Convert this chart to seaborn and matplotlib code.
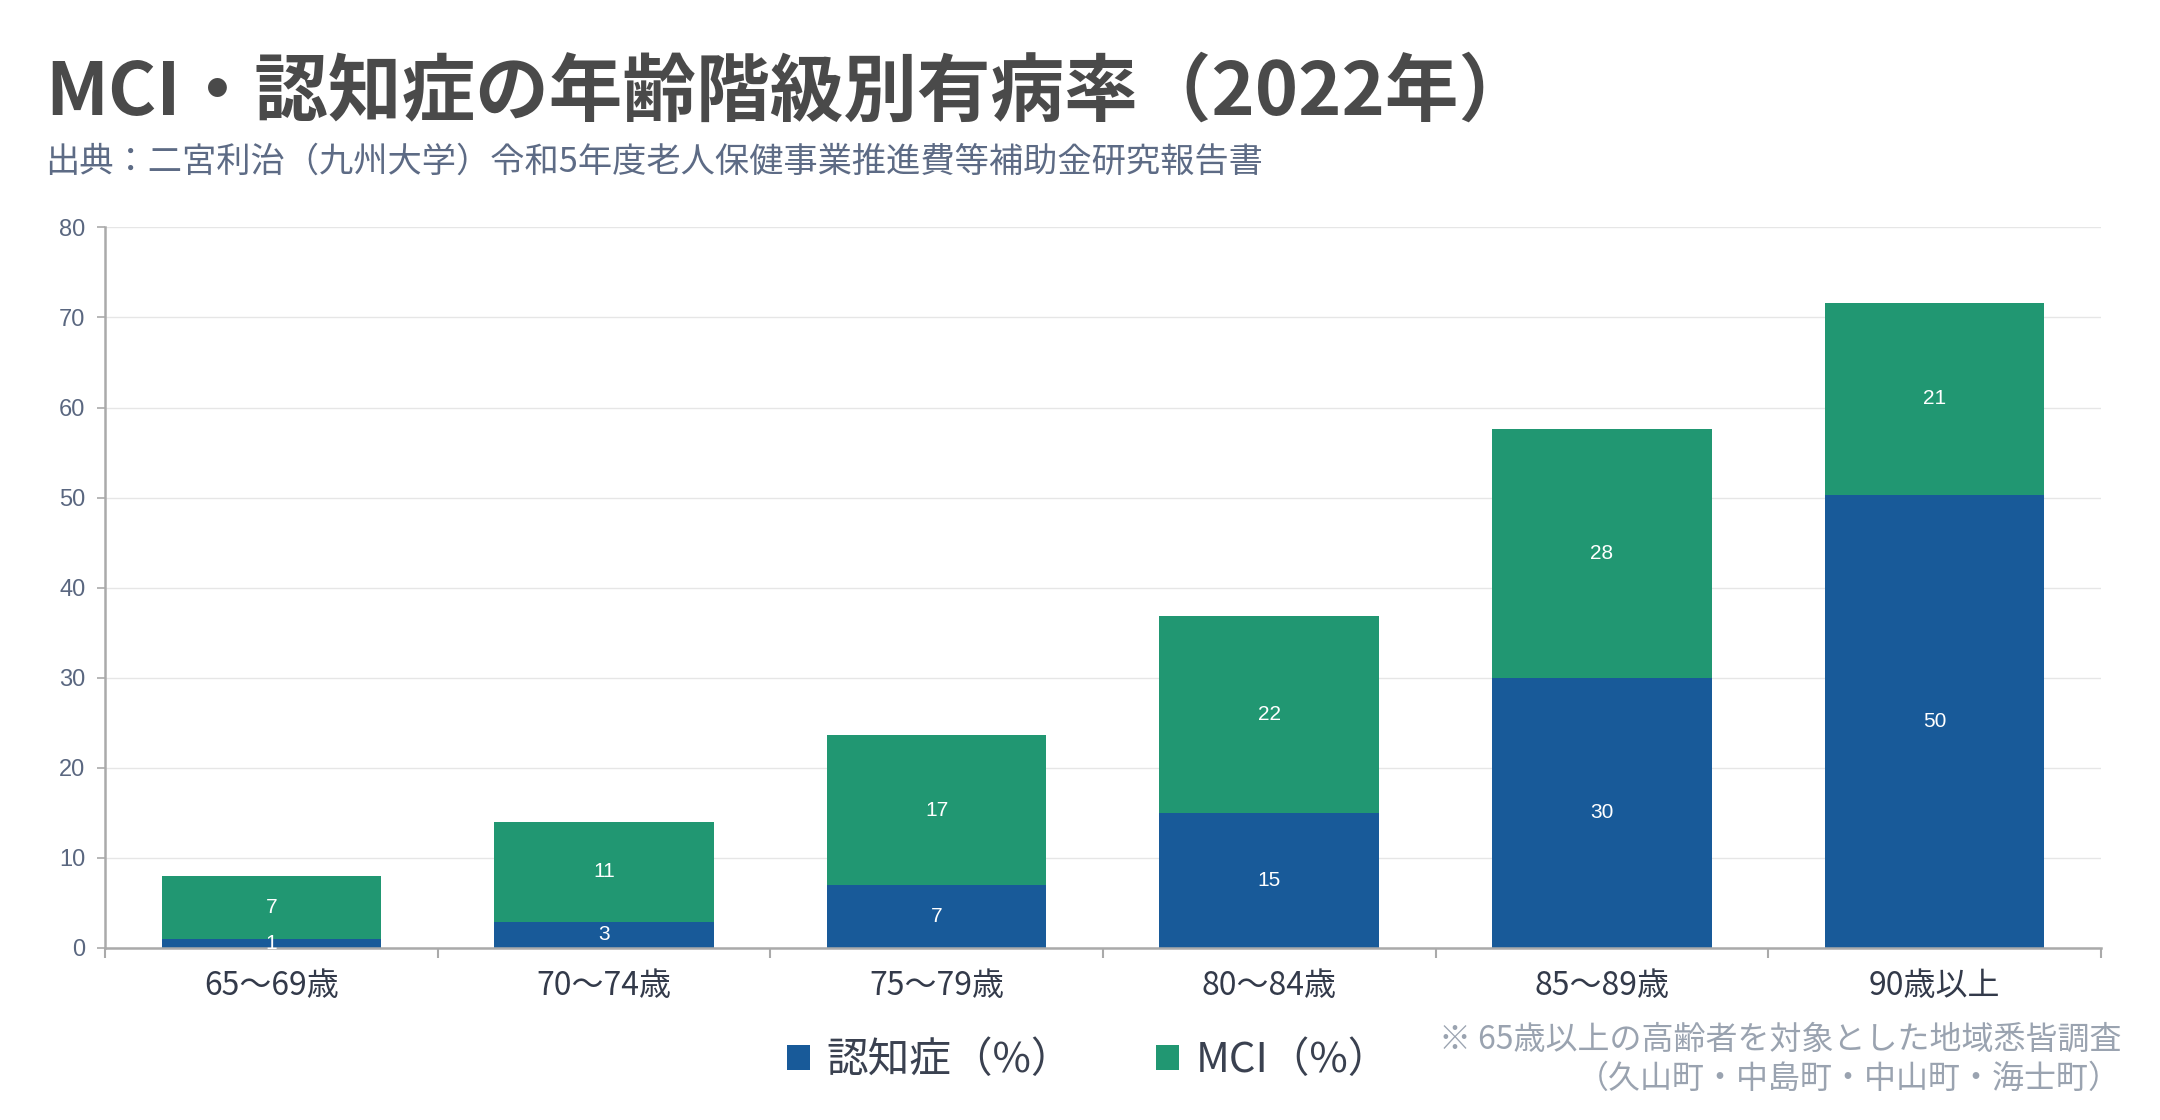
import numpy as np
import pandas as pd
import matplotlib
matplotlib.use("Agg")
import matplotlib.pyplot as plt
import seaborn as sns
from matplotlib.patches import Patch

# データ
age_groups = ['65～69歳', '70～74歳', '75～79歳', '80～84歳', '85～89歳', '90歳以上']
dementia = [1.0, 2.9, 7.0, 15.0, 30.0, 50.3]
mci = [7.0, 11.1, 16.6, 21.9, 27.6, 21.3]
y_ticks = [0, 10, 20, 30, 40, 50, 60, 70, 80]

blue = '#185A99'
green = '#219772'

sns.set_theme(style='white')
plt.rcParams['font.family'] = ['Noto Sans CJK JP', 'DejaVu Sans']

df = pd.DataFrame({'age': age_groups, 'dementia': dementia, 'mci': mci})

fig = plt.figure(figsize=(21.6, 11.2), dpi=100)
ax = fig.add_axes([0.0486, 0.1536, 0.924, 0.6434])

sns.barplot(data=df, x='age', y='dementia', color=blue, width=0.66,
            saturation=1, ax=ax, order=age_groups, linewidth=0)
sns.barplot(data=df, x='age', y='mci', color=green, width=0.66,
            saturation=1, ax=ax, order=age_groups, linewidth=0,
            bottom=df['dementia'].values)

for cont in ax.containers:
    vals = [f'{r.get_height():.0f}' for r in cont]
    ax.bar_label(cont, labels=vals, label_type='center', color='white',
                 fontsize=15, family='Liberation Sans')

ax.set_ylim(0, 80)
ax.set_xlim(-0.5, 5.5)
ax.set_yticks(y_ticks)
ax.set_xlabel('')
ax.set_ylabel('')
ax.yaxis.grid(True, color='#e6e6e6', linewidth=1)
ax.set_axisbelow(True)

for s in ['top', 'right']:
    ax.spines[s].set_visible(False)
for s in ['left', 'bottom']:
    ax.spines[s].set_color('#aaaaaa')
    ax.spines[s].set_linewidth(1.8)

ax.tick_params(axis='y', left=True, length=6, width=1.2, color='#aaaaaa',
               labelsize=17, labelcolor='#5a6780', pad=8)
for lab in ax.get_yticklabels():
    lab.set_family('Liberation Sans')
ax.tick_params(axis='x', which='major', length=0, labelsize=23,
               labelcolor='#333a4a', pad=16)
ax.set_xticks(np.arange(-0.5, 6, 1), minor=True)
ax.tick_params(axis='x', which='minor', bottom=True, length=7, width=1.5,
               color='#aaaaaa')

fig.text(0.021, 0.917, 'MCI・認知症の年齢階級別有病率（2022年）', fontsize=53,
         fontweight='bold', color='#4a4a4a', va='center', ha='left')
fig.text(0.021, 0.855, '出典：二宮利治（九州大学）令和5年度老人保健事業推進費等補助金研究報告書',
         fontsize=24.7, color='#5d6b85', va='center', ha='left')

handles = [Patch(facecolor=blue, edgecolor='none'), Patch(facecolor=green, edgecolor='none')]
fig.legend(handles, ['認知症（%）', 'MCI（%）'], loc='center', bbox_to_anchor=(0.504, 0.053),
           ncol=2, frameon=False, fontsize=30, handlelength=0.55, handleheight=0.55,
           handletextpad=0.4, columnspacing=2.0, labelcolor='#3a4150')

fig.text(0.982, 0.054, '※ 65歳以上の高齢者を対象とした地域悉皆調査\n（久山町・中島町・中山町・海士町）',
         fontsize=23, color='#9aa3b0', ha='right', va='center', linespacing=1.3,
         multialignment='right')

fig.savefig('out.png', dpi=100)
